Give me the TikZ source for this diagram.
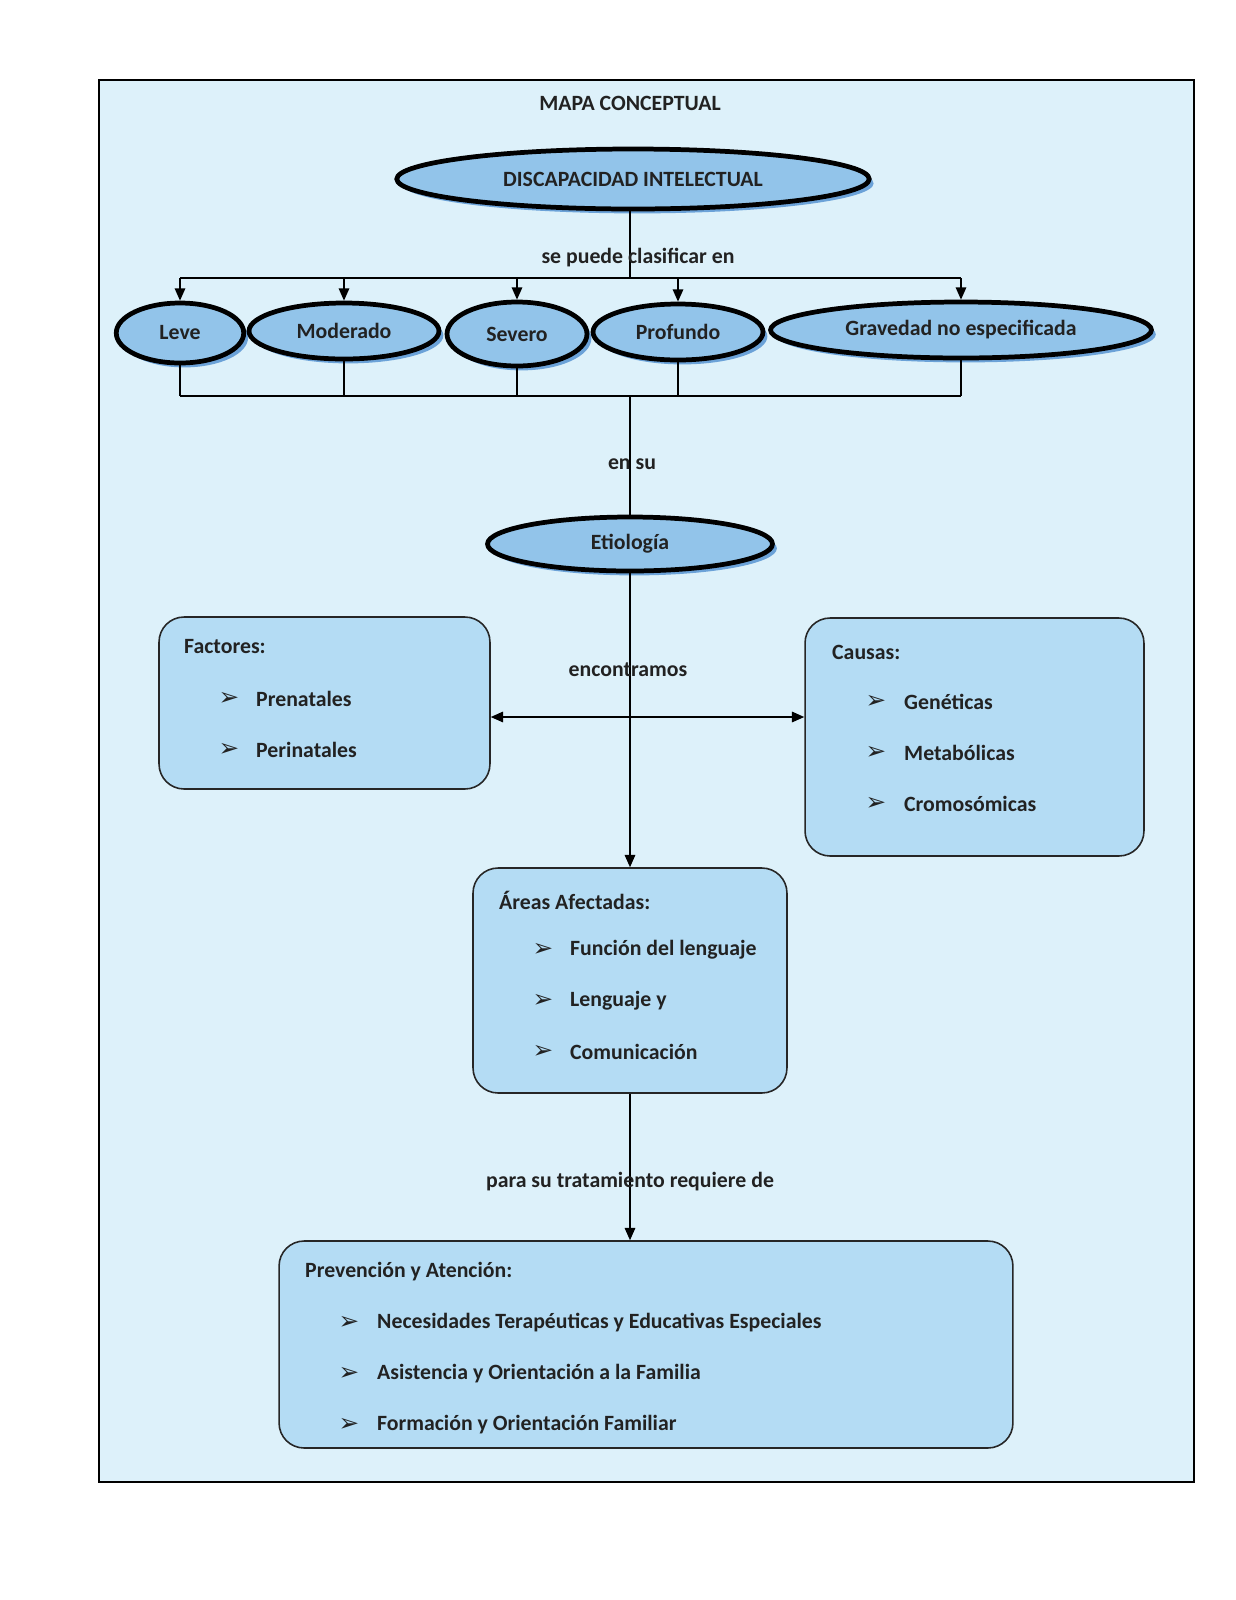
\documentclass[tikz,border=0pt]{standalone}
\usepackage{fontspec}
\setmainfont{Carlito}
\newfontfamily\symfont{DejaVu Sans}
\usetikzlibrary{arrows.meta,shapes.geometric,shadows}

\definecolor{fondo}{HTML}{DDF1FA}
\definecolor{azulelipse}{HTML}{92C4EA}
\definecolor{azulcaja}{HTML}{B4DCF4}
\definecolor{sombra}{HTML}{4F8FD0}
\definecolor{tinta}{HTML}{222222}
\newcommand{\flecha}{{\symfont\bfseries\fontsize{14}{16}\selectfont\char"27A2}}

\begin{document}
\begin{tikzpicture}[x=0.02cm,y=-0.02cm,font=\fontsize{12.4}{14}\bfseries\selectfont,text=tinta]
  \tikzset{concepto/.style={ellipse,draw=black,line width=2.7pt,fill=azulelipse,inner sep=0pt,
             drop shadow={shadow xshift=2.5pt,shadow yshift=-2.5pt,fill=sombra,opacity=.8}},
           caja/.style={rectangle,rounded corners=0.5cm,draw=black!85,line width=0.9pt,
             fill=azulcaja,inner sep=0pt},
           linea/.style={line width=0.8pt},
           flechita/.style={linea,-{Triangle[length=7pt,width=6pt]}},
           titulo/.style={anchor=west},
           item/.style={anchor=west},
           punto/.style={anchor=center}}
  \useasboundingbox (0,0) rectangle (1236,1600);
  \draw[line width=0.9pt,fill=fondo] (99,80) rectangle (1194,1482);

  % conceptos
  \node (mapa) at (630,103) {MAPA CONCEPTUAL};
  \node[concepto,minimum width=9.45cm,minimum height=1.2cm] (di) at (633,179) {DISCAPACIDAD INTELECTUAL};
  \node[concepto,minimum width=2.55cm,minimum height=1.2cm] (leve) at (180,333) {Leve};
  \node[concepto,minimum width=3.8cm,minimum height=1.12cm] (mod) at (344,331) {Moderado};
  \node[concepto,minimum width=2.8cm,minimum height=1.28cm] (sev) at (517,334) {Severo};
  \node[concepto,minimum width=3.4cm,minimum height=1.12cm] (prof) at (678,332) {Profundo};
  \node[concepto,minimum width=7.62cm,minimum height=1.12cm] (grav) at (961,330) {Gravedad no especificada};
  \node[concepto,minimum width=5.7cm,minimum height=1.08cm] (etio) at (630,544) {Etiología};

  % cajas
  \node[caja,minimum width=6.62cm,minimum height=3.44cm] (fact) at (324.5,703) {};
  \node[caja,minimum width=6.78cm,minimum height=4.76cm] (caus) at (974.5,737) {};
  \node[caja,minimum width=6.28cm,minimum height=4.5cm] (areas) at (630,980.5) {};
  \node[caja,minimum width=14.68cm,minimum height=4.14cm] (prev) at (646,1344.5) {};

  % conectores
  \coordinate (ramaA) at (630,278);
  \coordinate (ramaB) at (630,396);
  \coordinate (cruce) at (630,717);
  \draw[linea] (di.south -| ramaA) -- (ramaA);
  \draw[linea] (leve.north |- ramaA) -- (grav.north |- ramaA);
  \draw[linea] (leve.south |- ramaB) -- (grav.south |- ramaB);
  \foreach \n in {leve,mod,sev,prof,grav} {
    \draw[flechita] (\n.north |- ramaA) -- (\n.north);
    \draw[linea] (\n.south) -- (\n.south |- ramaB);
  }
  \draw[linea] (ramaB) -- (etio.north);
  \draw[flechita] (etio) -- (areas);
  \draw[linea,{Triangle[length=7pt,width=6pt]}-{Triangle[length=7pt,width=6pt]}]
    (cruce -| fact.east) -- (cruce -| caus.west);
  \draw[flechita] (areas) -- (areas |- prev.north);

  % etiquetas de enlace
  \node (clasif) at (638,258) {se puede clasificar en};
  \node (ensu) at (632,464) {en su};
  \node (encon) at (628,670) {encontramos};
  \node (trata) at (630,1182) {para su tratamiento requiere de};

  % contenido de las cajas
  \node[titulo] (factT) at (178,647) {Factores:};
  \foreach \t [count=\i, evaluate=\i as \y using 648+51*\i] in {Prenatales,Perinatales} {
    \node[punto] (factB\i) at (229,\y) {\flecha};
    \node[item] (fact\i) at (250,\y) {\t};
  }
  \node[titulo] (causT) at (826,652) {Causas:};
  \foreach \t [count=\i, evaluate=\i as \y using 651+51*\i] in {Genéticas,Metabólicas,Cromosómicas} {
    \node[punto] (causB\i) at (876,\y) {\flecha};
    \node[item] (caus\i) at (898,\y) {\t};
  }
  \node[titulo] (areasT) at (493,900) {Áreas Afectadas:};
  \foreach \t [count=\i, evaluate=\i as \y using 899+51*\i] in {Función del lenguaje,Lenguaje y,Comunicación} {
    \node[punto] (areasB\i) at (543,\y) {\flecha};
    \node[item] (areas\i) at (564,\y) {\t};
  }
  \node[titulo] (prevT) at (299,1272) {Prevención y Atención:};
  \foreach \t [count=\i, evaluate=\i as \y using 1272+51*\i] in
      {Necesidades Terapéuticas y Educativas Especiales,Asistencia y Orientación a la Familia,Formación y Orientación Familiar} {
    \node[punto] (prevB\i) at (349,\y) {\flecha};
    \node[item] (prev\i) at (371,\y) {\t};
  }
\end{tikzpicture}
\end{document}
